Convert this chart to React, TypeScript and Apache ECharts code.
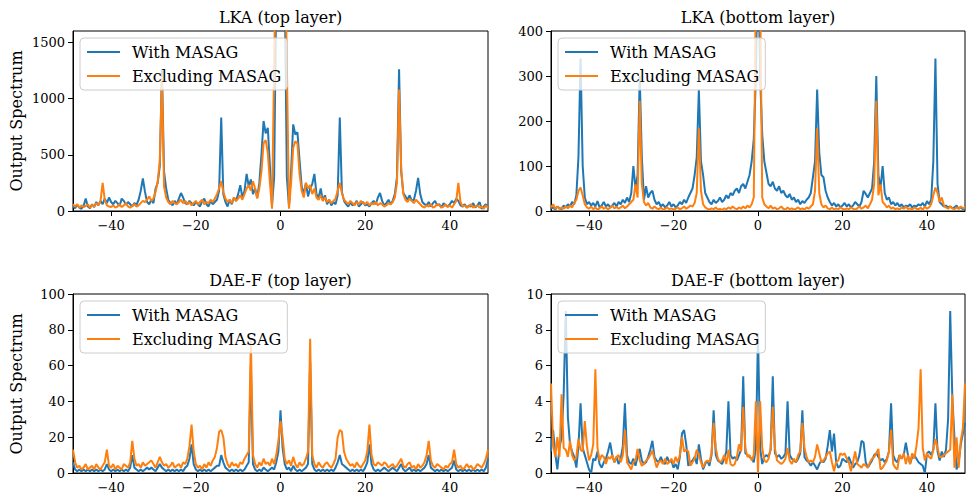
import React, { useEffect, useRef } from "react";
import * as echarts from "echarts";

// Sample positions: x = X_START + i * X_STEP (i = 0..196)
const X_START = -49;
const X_STEP = 0.5;

const SERIES_NAMES = ["With MASAG", "Excluding MASAG"];
const TITLES = ["LKA (top layer)", "LKA (bottom layer)", "DAE-F (top layer)", "DAE-F (bottom layer)"];
const Y_LABEL = "Output Spectrum";

const X_TICKS = [-40, -20, 0, 20, 40];
const Y_TICKS_LKA_TOP = [0, 500, 1000, 1500];
const Y_TICKS_LKA_BOT = [0, 100, 200, 300, 400];
const Y_TICKS_DAE_TOP = [0, 20, 40, 60, 80, 100];
const Y_TICKS_DAE_BOT = [0, 2, 4, 6, 8, 10];
const Y_MAX = [1600, 400, 100, 10];

// LKA (top layer)
const LKA_TOP_WITH = [
  40, 25, 55, 30, 20, 45, 110, 40, 25, 60,
  35, 80, 50, 90, 60, 110, 70, 120, 80, 60,
  90, 70, 45, 110, 90, 55, 80, 60, 40, 70,
  55, 100, 180, 290, 170, 80, 60, 100, 70, 200,
  250, 400, 1260, 350, 200, 100, 70, 50, 90, 60,
  110, 160, 120, 70, 60, 90, 70, 50, 80, 60,
  40, 90, 110, 60, 40, 90, 60, 80, 100, 180,
  830, 150, 80, 40, 100, 60, 120, 90, 150, 230,
  120, 180, 330, 220, 280, 150, 200, 120, 250, 500,
  800, 690, 740, 400, 50, 300, 2000, 3500, 4000, 3500,
  2000, 300, 40, 350, 770, 680, 700, 450, 220, 150,
  250, 130, 200, 240, 330, 150, 120, 200, 90, 140,
  60, 100, 50, 80, 60, 140, 830, 170, 90, 60,
  40, 80, 50, 60, 90, 40, 60, 80, 50, 60,
  40, 70, 90, 60, 120, 160, 90, 50, 70, 100,
  60, 90, 150, 300, 1260, 350, 160, 130, 100, 140,
  90, 100, 180, 295, 150, 80, 60, 50, 80, 40,
  70, 90, 50, 60, 30, 70, 50, 40, 60, 90,
  70, 110, 90, 50, 40, 60, 30, 50, 40, 70,
  30, 50, 80, 20, 40, 60, 30,
];
const LKA_TOP_EXCL = [
  60, 40, 60, 30, 50, 35, 45, 60, 30, 55,
  40, 70, 50, 90, 250, 100, 50, 40, 35, 50,
  30, 40, 60, 35, 50, 70, 40, 30, 45, 60,
  40, 50, 70, 90, 80, 100, 130, 90, 110, 170,
  260, 450, 1190, 220, 120, 80, 60, 90, 70, 60,
  80, 100, 70, 90, 60, 80, 50, 70, 90, 60,
  80, 100, 60, 80, 70, 100, 80, 110, 150, 200,
  265, 170, 110, 80, 100, 70, 120, 90, 110, 140,
  100, 150, 200, 230, 180, 265, 200, 110, 200, 350,
  600, 630, 520, 250, 20, 1300, 2500, 3000, 3200, 3000,
  2500, 1300, 20, 250, 560, 620, 600, 330, 180, 120,
  250, 200, 230, 150, 200, 120, 100, 140, 90, 120,
  80, 100, 70, 90, 110, 180, 250, 160, 100, 80,
  60, 90, 70, 50, 80, 60, 90, 70, 60, 80,
  50, 70, 60, 80, 50, 70, 60, 40, 50, 70,
  60, 80, 120, 250, 1080, 380, 150, 100, 80, 110,
  90, 70, 100, 80, 60, 40, 30, 50, 40, 60,
  30, 40, 60, 50, 30, 40, 60, 35, 50, 30,
  60, 90, 250, 80, 40, 50, 30, 40, 60, 30,
  40, 50, 30, 40, 20, 50, 30,
];

// LKA (bottom layer)
const LKA_BOT_WITH = [
  5, 8, 3, 10, 6, 4, 12, 8, 15, 10,
  20, 15, 35, 120, 339, 100, 30, 15, 20, 12,
  18, 10, 22, 8, 12, 20, 10, 15, 8, 12,
  18, 10, 20, 15, 25, 18, 30, 20, 40, 100,
  50, 80, 300, 120, 25, 55, 30, 40, 45, 25,
  15, 20, 10, 15, 8, 12, 20, 10, 15, 8,
  12, 20, 15, 25, 18, 30, 40, 50, 80, 120,
  270, 110, 80, 40, 30, 20, 15, 25, 18, 22,
  30, 20, 25, 35, 28, 40, 35, 45, 50, 40,
  55, 60, 50, 65, 80, 110, 160, 300, 600, 300,
  170, 110, 85, 60, 55, 65, 50, 45, 55, 40,
  45, 35, 30, 38, 25, 30, 20, 25, 15, 22,
  18, 25, 30, 40, 75, 110, 270, 130, 80, 75,
  45, 30, 20, 12, 18, 10, 15, 8, 12, 18,
  10, 15, 8, 12, 20, 15, 10, 20, 45, 38,
  30, 40, 50, 110, 300, 80, 50, 100, 40, 25,
  30, 15, 20, 12, 18, 10, 15, 8, 12, 10,
  15, 8, 12, 10, 15, 12, 18, 10, 22, 15,
  25, 110, 339, 60, 20, 15, 10, 12, 8, 10,
  6, 8, 12, 5, 8, 4, 6,
];
const LKA_BOT_EXCL = [
  8, 15, 5, 10, 4, 8, 5, 10, 6, 12,
  8, 18, 25, 45, 52, 35, 15, 8, 5, 10,
  4, 8, 3, 6, 10, 5, 8, 4, 7, 12,
  6, 9, 5, 8, 12, 6, 10, 15, 20, 25,
  59, 30, 245, 60, 20, 12, 18, 8, 5, 10,
  6, 4, 8, 3, 5, 8, 4, 6, 3, 5,
  8, 4, 6, 10, 5, 8, 12, 10, 18, 40,
  184, 45, 15, 8, 5, 3, 6, 4, 8, 3,
  5, 2, 6, 4, 8, 5, 10, 6, 4, 8,
  5, 10, 6, 12, 8, 15, 30, 500, 900, 500,
  30, 15, 10, 6, 12, 5, 8, 4, 6, 10,
  5, 3, 8, 4, 6, 3, 5, 8, 4, 6,
  3, 8, 5, 10, 15, 45, 184, 40, 15, 8,
  12, 6, 4, 8, 3, 6, 4, 8, 5, 3,
  6, 4, 8, 5, 3, 6, 10, 5, 8, 12,
  6, 15, 25, 60, 245, 35, 59, 20, 15, 8,
  12, 5, 8, 4, 6, 3, 8, 5, 10, 4,
  6, 3, 8, 5, 4, 7, 3, 10, 5, 8,
  15, 35, 52, 40, 20, 30, 12, 8, 5, 10,
  6, 4, 8, 5, 10, 6, 8,
];

// DAE-F (top layer)
const DAE_TOP_WITH = [
  6, 2, 1, 2, 1, 2, 1, 2, 1, 2,
  1, 2, 1, 2, 1, 2, 5, 2, 1, 2,
  1, 2, 1, 2, 1, 2, 1, 3, 10, 3,
  2, 1, 2, 1, 2, 3, 2, 3, 2, 1,
  3, 5, 3, 2, 1, 2, 1, 2, 1, 2,
  1, 2, 1, 3, 4, 8, 16, 5, 2, 1,
  2, 1, 2, 1, 2, 1, 2, 3, 4, 4,
  10, 6, 3, 2, 1, 2, 1, 2, 1, 2,
  1, 2, 4, 6, 60, 5, 2, 1, 2, 1,
  3, 2, 1, 2, 3, 2, 6, 12, 35, 14,
  5, 2, 3, 1, 4, 2, 1, 2, 1, 2,
  3, 5, 62, 5, 2, 1, 2, 1, 2, 1,
  2, 1, 2, 1, 3, 6, 10, 5, 4, 3,
  2, 1, 2, 1, 2, 1, 2, 1, 3, 6,
  16, 5, 2, 1, 2, 1, 2, 3, 2, 1,
  2, 3, 2, 1, 3, 5, 2, 1, 2, 3,
  1, 2, 1, 2, 1, 2, 3, 5, 10, 3,
  2, 1, 2, 1, 2, 1, 2, 1, 2, 3,
  7, 2, 1, 2, 1, 2, 1, 2, 1, 2,
  1, 2, 1, 2, 1, 3, 8,
];
const DAE_TOP_EXCL = [
  13, 6, 3, 4, 2, 3, 5, 2, 3, 4,
  2, 5, 3, 2, 4, 6, 13, 4, 3, 5,
  2, 4, 3, 2, 5, 4, 3, 6, 18, 8,
  4, 5, 3, 6, 4, 5, 6, 7, 5, 3,
  6, 9, 6, 4, 5, 3, 4, 6, 3, 4,
  5, 3, 6, 5, 8, 15, 27, 12, 5, 3,
  4, 2, 5, 3, 6, 4, 7, 9, 14, 23,
  24, 20, 9, 5, 3, 6, 4, 5, 3, 6,
  5, 8, 10, 12, 74, 10, 5, 3, 6, 4,
  8, 5, 6, 4, 8, 5, 10, 18, 29, 20,
  8, 5, 7, 4, 9, 5, 3, 6, 4, 5,
  8, 12, 75, 10, 5, 3, 6, 4, 3, 5,
  6, 4, 3, 5, 8, 20, 24, 23, 12, 8,
  6, 4, 5, 3, 6, 4, 3, 5, 7, 12,
  27, 10, 5, 4, 6, 5, 4, 6, 5, 3,
  4, 5, 3, 4, 6, 8, 4, 3, 5, 6,
  3, 4, 2, 5, 3, 4, 6, 10, 18, 7,
  4, 3, 5, 4, 3, 2, 4, 3, 5, 6,
  13, 5, 3, 4, 2, 3, 5, 3, 4, 2,
  3, 5, 4, 3, 5, 8, 13,
];

// DAE-F (bottom layer)
const DAE_BOT_WITH = [
  1.2, 2.4, 1.1, 0.2, 1.4, 2.0, 4.4, 9.05, 3.1, 1.6,
  1.2, 0.9, 0.3, 1.5, 3.9, 1.4, 1.0, 0.6, 0.2, 0,
  0.8, 0.7, 1.2, 0.5, 0.3, 0.6, 0.8, 1.2, 1.7, 1.0,
  0.6, 0.9, 0.5, 0.8, 1.5, 3.9, 1.0, 0.6, 0.5, 0.8,
  0.4, 0.9, 1.35, 0.7, 0.5, 0.6, 0.9, 1.3, 1.8, 0.9,
  0.7, 0.6, 0.9, 0.6, 0.5, 0.9, 0.6, 0.7, 0.3, 0.5,
  0.2, 0.9, 2.2, 2.4, 1.6, 0.4, 0.6, 0.7, 0.9, 0.5,
  1.6, 0.8, 0.2, 0.5, 0.7, 0.4, 1.0, 3.5, 1.0, 0.7,
  0.6, 0.5, 0.8, 1.2, 4.0, 1.0, 0.8, 0.9, 0.7, 1.0,
  1.3, 5.4, 1.1, 1.0, 0.9, 0.8, 0.6, 1.4, 7.8, 1.4,
  0.5, 0.9, 1.0, 0.9, 1.3, 5.4, 1.1, 0.9, 1.0, 0.8,
  0.9, 1.1, 4.0, 1.0, 0.8, 0.7, 0.6, 0.8, 1.1, 3.5,
  0.9, 0.7, 0.6, 0.4, 0.6, 0.4, 0.2, 0.5, 0.7, 0.6,
  0.8, 1.5, 2.4, 1.2, 2.2, 0.6, 0.3, 0.4, 0.8, 0.7,
  0.6, 0.9, 0.6, 0.3, 0.5, 0.6, 1.0, 1.8, 1.7, 0.6,
  0.3, 0.5, 0.7, 1.0, 1.1, 0.9, 0.7, 0.8, 0.6, 0.8,
  1.2, 3.9, 1.0, 0.7, 0.6, 1.0, 0.8, 1.0, 1.7, 1.0,
  0.5, 0.9, 1.0, 0.8, 0.6, 0.5, 0.4, 0, 1.1, 1.2,
  1.0, 1.3, 3.9, 1.2, 0.7, 1.2, 0.9, 1.3, 3.0, 9.05,
  4.2, 2.0, 0.2, 0.6, 1.6, 2.2, 2.8,
];
const DAE_BOT_EXCL = [
  5.0, 1.6, 0.9, 2.0, 0.9, 4.4, 1.4, 1.3, 0.9, 1.8,
  1.0, 0.7, 0.9, 1.9, 1.3, 1.2, 2.9, 1.5, 0.7, 1.0,
  1.6, 5.8, 1.4, 0.7, 1.0, 0.9, 0.5, 0.9, 0.8, 1.0,
  0.6, 0.9, 1.0, 0.6, 1.0, 2.4, 0.6, 0.4, 0.2, 0.6,
  0.7, 1.35, 0.7, 0.4, 0.5, 0.7, 0.8, 1.0, 1.25, 0.8,
  0.3, 0.6, 0.7, 0.5, 0.8, 0.5, 0.6, 0.8, 0.5, 0.9,
  0.6, 1.0, 2.0, 1.2, 1.3, 1.2, 0.4, 0.6, 0.8, 1.3,
  1.0, 0.6, 0.3, 0.6, 0.7, 0.6, 1.1, 2.8, 1.4, 0.8,
  0.6, 0.7, 1.0, 0.5, 1.3, 0.5, 0.4, 0.5, 0.9, 1.6,
  1.2, 3.7, 1.4, 0.9, 1.0, 0.7, 1.0, 4.0, 0, 4.0,
  1.4, 0.7, 0.6, 0.8, 1.4, 3.7, 1.4, 0.7, 0.6, 0.5,
  0.6, 0.8, 1.4, 0.7, 0.5, 0.8, 0.6, 1.0, 1.2, 2.8,
  1.4, 0.9, 0.6, 0.7, 0.6, 0.9, 1.6, 1.1, 0.6, 0.7,
  0.9, 1.1, 1.2, 0.6, 0.1, 0.6, 0.7, 1.1, 1.0, 1.1,
  0.8, 0.6, 0.1, 0.6, 1.2, 0.5, 0.4, 0.3, 0.5, 0.4,
  0.3, 0.6, 0.8, 0.9, 1.1, 1.35, 0.2, 0.3, 0.5, 0.7,
  1.2, 2.4, 0.5, 0.3, 0.2, 1.0, 0.8, 1.1, 0.5, 1.0,
  0.5, 1.1, 0.8, 1.5, 2.5, 5.8, 1.4, 0.7, 1.1, 0.9,
  0.8, 1.3, 1.9, 1.4, 0.9, 0.9, 1.0, 1.1, 1.2, 1.3,
  4.4, 0.3, 2.0, 0.3, 1.8, 2.5, 5.0,
];

const BLUE = "#1f77b4";
const ORANGE = "#ff7f0e";
const FONT = "DejaVu Serif";

const toPairs = (vals: number[]) => vals.map((v, i) => [X_START + i * X_STEP, v]);
const minus = (v: number) => String(v).replace("-", "\u2212");

const PANELS = [
  { left: 73, top: 31, width: 415, height: 180, yTicks: Y_TICKS_LKA_TOP, w: LKA_TOP_WITH, e: LKA_TOP_EXCL, yLabel: true },
  { left: 551, top: 31, width: 414, height: 180, yTicks: Y_TICKS_LKA_BOT, w: LKA_BOT_WITH, e: LKA_BOT_EXCL, yLabel: false },
  { left: 73, top: 294, width: 415, height: 180, yTicks: Y_TICKS_DAE_TOP, w: DAE_TOP_WITH, e: DAE_TOP_EXCL, yLabel: true },
  { left: 551, top: 294, width: 414, height: 180, yTicks: Y_TICKS_DAE_BOT, w: DAE_BOT_WITH, e: DAE_BOT_EXCL, yLabel: false },
];

export default function App() {
  const ref = useRef<HTMLDivElement>(null);
  useEffect(() => {
    document.body.style.margin = "0";
    if (!ref.current) return;
    const chart = echarts.init(ref.current, undefined, { renderer: "svg" });
    const axisCommon = {
      axisLine: { show: true, onZero: false, lineStyle: { color: "#000", width: 1 } },
      splitLine: { show: false },
    };
    const graphics: any[] = [];
    PANELS.forEach((p, i) => {
      graphics.push({
        type: "text",
        x: p.left + p.width / 2,
        y: p.top - 14,
        style: { text: TITLES[i], fontFamily: FONT, fontSize: 16, fill: "#000", align: "center", verticalAlign: "middle" },
      });
      if (p.yLabel) {
        graphics.push({
          type: "text",
          x: 16,
          y: p.top + p.height / 2,
          rotation: Math.PI / 2,
          style: { text: Y_LABEL, fontFamily: FONT, fontSize: 16, fill: "#000", align: "center", verticalAlign: "middle" },
        });
      }
    });
    const option: any = {
      animation: false,
      backgroundColor: "#fff",
      grid: PANELS.map((p) => ({
        left: p.left, top: p.top, width: p.width, height: p.height,
        show: true, borderColor: "#000", borderWidth: 1, backgroundColor: "transparent",
      })),
      xAxis: PANELS.map((p, i) => ({
        type: "value", gridIndex: i, min: -49, max: 49,
        ...axisCommon,
        axisTick: { show: true, customValues: X_TICKS, length: 5, lineStyle: { color: "#000" } },
        axisLabel: { customValues: X_TICKS, formatter: minus, color: "#000", fontFamily: FONT, fontSize: 13, margin: 8 },
      })),
      yAxis: PANELS.map((p, i) => ({
        type: "value", gridIndex: i, min: 0, max: Y_MAX[i],
        ...axisCommon,
        axisTick: { show: true, customValues: p.yTicks, length: 5, lineStyle: { color: "#000" } },
        axisLabel: { customValues: p.yTicks, formatter: minus, color: "#000", fontFamily: FONT, fontSize: 13, margin: 8 },
      })),
      legend: PANELS.map((p) => ({
        orient: "vertical",
        left: p.left + 7,
        top: p.top + 7,
        data: SERIES_NAMES,
        icon: "rect",
        itemWidth: 33,
        itemHeight: 2,
        itemGap: 8,
        padding: [6, 6, 6, 7],
        backgroundColor: "rgba(255,255,255,0.8)",
        borderColor: "#cccccc",
        borderWidth: 1,
        borderRadius: 4,
        textStyle: { fontFamily: FONT, fontSize: 16, color: "#000", padding: [0, 0, 0, 7] },
      })),
      series: PANELS.flatMap((p, i) => [
        {
          type: "line", name: SERIES_NAMES[0], xAxisIndex: i, yAxisIndex: i,
          data: toPairs(p.w), showSymbol: false, symbol: "none", clip: true,
          lineStyle: { color: BLUE, width: 2 }, itemStyle: { color: BLUE }, z: 2,
        },
        {
          type: "line", name: SERIES_NAMES[1], xAxisIndex: i, yAxisIndex: i,
          data: toPairs(p.e), showSymbol: false, symbol: "none", clip: true,
          lineStyle: { color: ORANGE, width: 2 }, itemStyle: { color: ORANGE }, z: 3,
        },
      ]),
      graphic: graphics,
    };
    chart.setOption(option);
    return () => chart.dispose();
  }, []);
  return <div ref={ref} style={{ width: 966, height: 494 }} />;
}
